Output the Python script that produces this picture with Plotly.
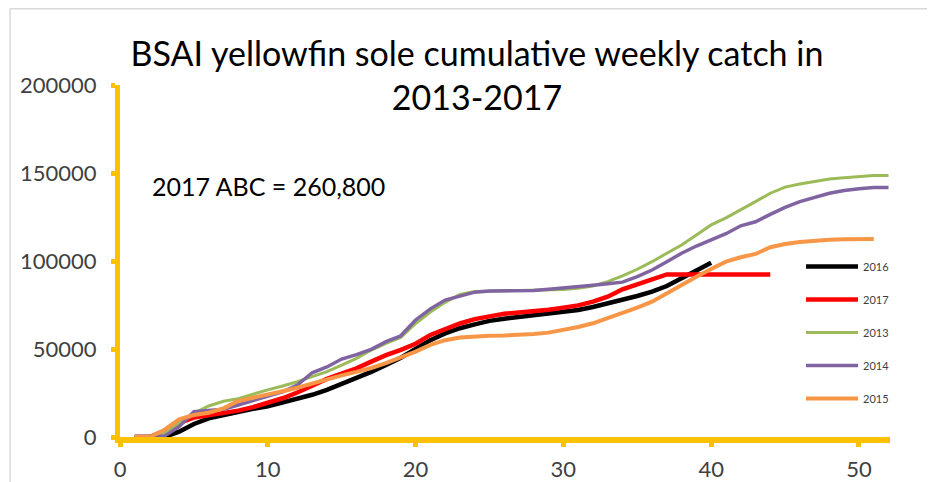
import plotly.graph_objects as go

weeks = list(range(1, 53))

catch_2013 = [0, 0, 2500, 7800, 13500, 17600, 20300, 21800, 24500, 26800,
              29000, 31400, 34300, 37100, 40900, 44700, 49400, 53200, 56500, 64500,
              71000, 76500, 81000, 82600, 82800, 83000, 83000, 83100, 83300, 83800,
              84500, 85800, 88300, 91500, 95300, 99600, 104400, 109100, 114800, 120500,
              124500, 129000, 133700, 138500, 142000, 143700, 145000, 146600, 147300, 148000,
              148600, 148600]
catch_2014 = [0, 0, 500, 5900, 14400, 15000, 15800, 18200, 20600, 22900,
              25700, 29500, 36500, 39800, 44300, 46800, 49800, 54200, 57500, 66500,
              72800, 77800, 80000, 82300, 82900, 83000, 83200, 83300, 83900, 84500,
              85200, 86200, 87100, 88000, 91100, 94900, 99600, 104400, 108500, 112200,
              115500, 120000, 122300, 126500, 130500, 133700, 136200, 138500, 140000, 141100,
              141700, 141700]
catch_2015 = [0, 0, 4000, 10000, 12500, 13800, 16300, 20500, 22300, 23900,
              26000, 28000, 30500, 32800, 35000, 37000, 39200, 42000, 45000, 48500,
              52300, 55000, 56500, 57200, 57500, 57700, 58000, 58500, 59300, 60800,
              62500, 64600, 67400, 70300, 73500, 76900, 81600, 86900, 91100, 95500,
              99600, 102100, 104000, 107800, 109700, 110800, 111500, 112100, 112300, 112400,
              112500]
catch_2016 = [0, 0, 0, 3000, 7400, 10600, 12500, 14500, 16000, 17400,
              19500, 21800, 24000, 26800, 30000, 33500, 37000, 40900, 45000, 50000,
              55000, 58900, 61800, 64000, 66000, 67200, 68200, 69000, 69800, 70800,
              72200, 73900, 75800, 77800, 80100, 82600, 85800, 90200, 94300, 99000]
catch_2017 = [0, 0, 3500, 8000, 11000, 12300, 13300, 15000, 17000, 19200,
              22000, 25300, 29000, 33000, 36000, 39000, 42800, 46500, 49500, 53000,
              58000, 61500, 64500, 67000, 68800, 70000, 70800, 71400, 72300, 73500,
              74800, 76900, 79700, 83900, 86900, 89600, 92400, 92400, 92400, 92400,
              92400, 92400, 92400, 92400]

x_ticks = [0, 10, 20, 30, 40, 50]
y_ticks = [0, 50000, 100000, 150000, 200000]

title_text = "BSAI yellowfin sole cumulative weekly catch in<br>2013-2017"
abc_text = "2017 ABC = 260,800"

series = [
    ("2016", catch_2016, "#000000", 4.5),
    ("2017", catch_2017, "#FF0000", 4.5),
    ("2013", catch_2013, "#9BBB59", 3),
    ("2014", catch_2014, "#8064A2", 3.5),
    ("2015", catch_2015, "#F79646", 4),
]

FONT = "Lato, Open Sans, sans-serif"
YEL = "#FFC000"

# page body has an 8px margin, so figure pixel = window pixel - 8
OFF = 8
W, H = 935, 482
L = 120 - OFF            # plot left
T = 85 - OFF             # plot top
PR = 890 - OFF           # plot right
PB = 437 - OFF           # plot bottom
R = W - PR
B = H - PB
PW = PR - L
PH = PB - T


def px(xw):
    return (xw - OFF - L) / PW


def py(yw):
    return (PB - (yw - OFF)) / PH


fig = go.Figure()
for name, vals, color, w in series:
    fig.add_trace(go.Scatter(
        x=weeks[:len(vals)], y=vals, mode="lines", name=name,
        legendgroup=name,
        line=dict(color=color, width=w),
    ))

fig.update_layout(
    template="none",
    width=W, height=H,
    margin=dict(l=L, r=R, t=T, b=B, pad=0),
    paper_bgcolor="white", plot_bgcolor="white",
    font=dict(family=FONT, color="#404040"),
    title=dict(text=title_text, x=(477 - OFF) / W, xanchor="center",
               y=1 - (66 - OFF) / H, yanchor="middle",
               font=dict(family=FONT, size=34, color="#000000")),
    showlegend=True,
    legend=dict(x=px(801), y=py(252), xanchor="left", yanchor="top",
                bgcolor="rgba(0,0,0,0)", font=dict(size=11, color="#404040"),
                tracegroupgap=14, itemwidth=52, borderwidth=0),
    xaxis=dict(range=[0, 52.1], tickvals=x_ticks, showgrid=False, zeroline=False,
               automargin=False,
               showline=True, linecolor=YEL, linewidth=6,
               ticks="outside", ticklen=4, tickwidth=5, tickcolor=YEL,
               tickfont=dict(size=22, color="#404040"), ticklabelstandoff=4),
    yaxis=dict(range=[0, 200000], tickvals=y_ticks, showgrid=False, zeroline=False,
               automargin=False,
               showline=True, linecolor=YEL, linewidth=5,
               ticks="outside", ticklen=4, tickwidth=5, tickcolor=YEL,
               tickformat="d",
               tickfont=dict(size=22, color="#404040"), ticklabelstandoff=10),
    annotations=[dict(text=abc_text, xref="paper", yref="paper",
                      x=px(150), y=py(186),
                      xanchor="left", yanchor="middle", showarrow=False,
                      font=dict(family=FONT, size=25, color="#000000"))],
    shapes=[
        dict(type="line", xref="paper", yref="paper",
             x0=px(10), x1=px(950), y0=py(8.8), y1=py(8.8),
             line=dict(color="#D9D9D9", width=1.5)),
        dict(type="line", xref="paper", yref="paper",
             x0=px(10), x1=px(10), y0=py(8.8), y1=py(500),
             line=dict(color="#D9D9D9", width=1.5)),
    ],
)

fig.write_html("out.html")
